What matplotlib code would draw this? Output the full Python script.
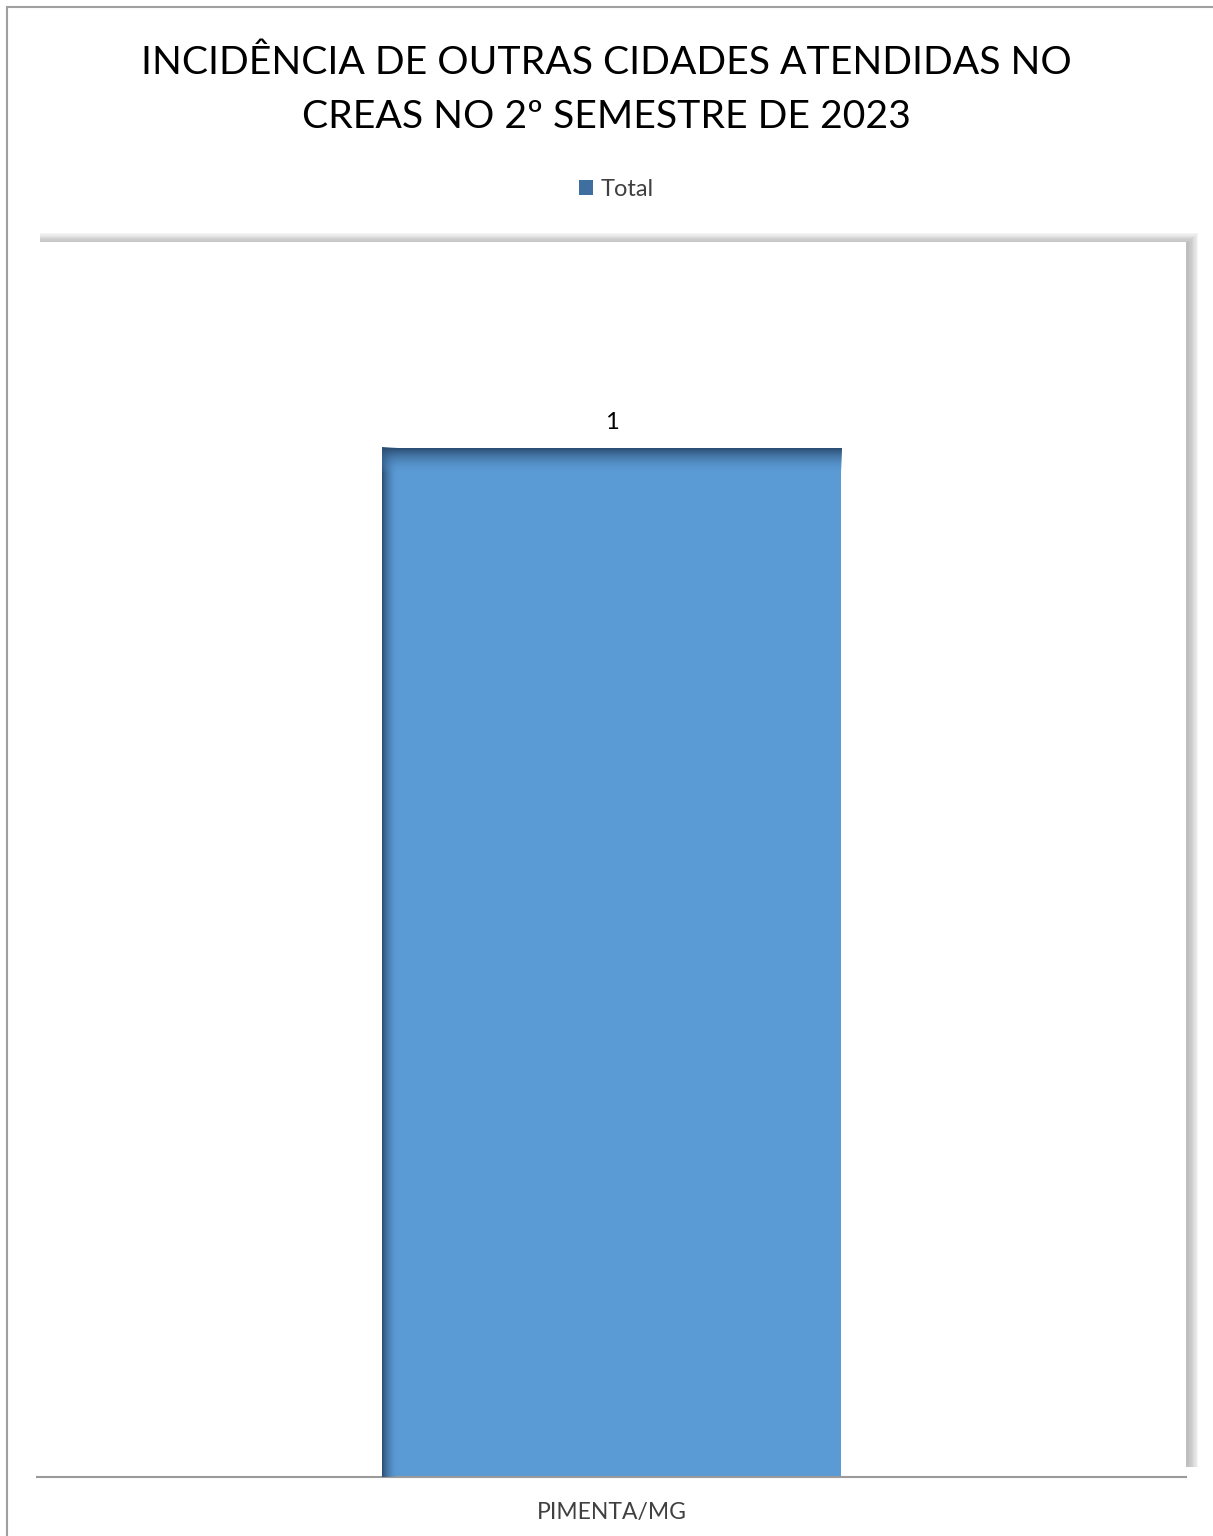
import numpy as np
import matplotlib.pyplot as plt
from matplotlib.patches import Rectangle
from matplotlib.colors import LinearSegmentedColormap

plt.rcParams['font.family'] = ['Lato', 'DejaVu Sans']

# data
cities = ['PIMENTA/MG']
totals = [1]
series_name = 'Total'
title = 'INCIDÊNCIA DE OUTRAS CIDADES ATENDIDAS NO\nCREAS NO 2º SEMESTRE DE 2023'

W, H = 1213, 1536
fig = plt.figure(figsize=(W / 100, H / 100), dpi=100)

# outer chart border (left + top only visible)
fig.patches.append(Rectangle((7 / W, -0.1), 1.2, 1.1 - 7 / H, transform=fig.transFigure,
                             fill=False, edgecolor='#a0a0a0', linewidth=1.5))

# plot area position (pixels)
x0, x1, y0, y1 = 37, 1186, 242, 1477
ax_rect = [x0 / W, 1 - y1 / H, (x1 - x0) / W, (y1 - y0) / H]

# soft shadow on top and right of plot area
for i in range(8):
    off = i * 1.3
    fig.patches.append(Rectangle(((x0 + 3) / W, 1 - (y1 - 10) / H), (x1 - x0 + off) / W, (y1 - y0 - 10 + off) / H,
                                 transform=fig.transFigure, facecolor='#808080', alpha=0.08,
                                 edgecolor='none', zorder=0))

ax = fig.add_axes(ax_rect, zorder=1)
ax.set_facecolor('white')

xpos = np.arange(len(cities))
bars = ax.bar(xpos, totals, width=0.4, color='#5b9bd5', zorder=2, label=series_name)
ax.set_xlim(-0.5, 0.5)
ax.set_ylim(0, 1.2)

# dark edge gradient on left and top of each bar
cmap_l = LinearSegmentedColormap.from_list('l', [(0.17, 0.30, 0.45, 1), (0.36, 0.61, 0.84, 0)])
for b in bars:
    bx, bw, bh = b.get_x(), b.get_width(), b.get_height()
    grad = np.linspace(0, 1, 100).reshape(1, -1)
    ax.imshow(grad, cmap=cmap_l, extent=[bx, bx + bw * 0.035, 0, bh], aspect='auto', zorder=3)
    ax.imshow(grad.T, cmap=cmap_l, extent=[bx, bx + bw, bh - 0.025, bh], aspect='auto',
              origin='upper', zorder=3)
    ax.text(bx + bw / 2, bh + 0.014, str(int(bh)), ha='center', va='bottom', fontsize=17, color='#000000')

for s in ['top', 'right', 'left']:
    ax.spines[s].set_visible(False)
ax.spines['bottom'].set_color('#9a9a9a')
ax.spines['bottom'].set_linewidth(1.5)
ax.set_yticks([])
ax.set_xticks(xpos)
ax.set_xticklabels(cities, fontsize=16.5, color='#404040')
ax.tick_params(axis='x', length=0, pad=18)

fig.text(0.5, 1 - 90 / H, title, ha='center', va='center', fontsize=28.2, color='black', linespacing=1.62)

leg = fig.legend(handles=[Rectangle((0, 0), 1, 1, facecolor='#3e6f9e')], labels=[series_name],
                 loc='center', bbox_to_anchor=(0.508, 1 - 189 / H), frameon=False, fontsize=17,
                 handlelength=0.62, handleheight=0.62, handletextpad=0.3)
for t in leg.get_texts():
    t.set_color('#404040')

fig.savefig('out.png', dpi=100, facecolor='white')
